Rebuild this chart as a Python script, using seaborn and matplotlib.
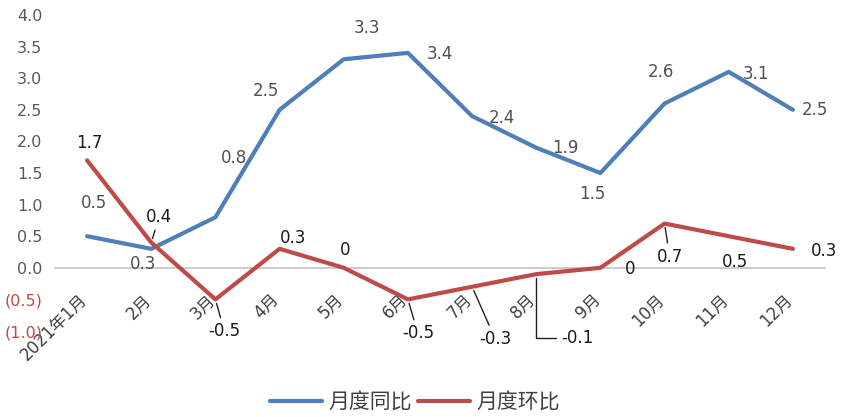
import matplotlib
matplotlib.use('Agg')
import matplotlib.pyplot as plt
import matplotlib.transforms as mtransforms
from matplotlib.lines import Line2D
from matplotlib.ticker import FuncFormatter, MultipleLocator
import pandas as pd
import seaborn as sns

# Data
months = ['2021年1月', '2月', '3月', '4月', '5月', '6月',
          '7月', '8月', '9月', '10月', '11月', '12月']
yoy = [0.5, 0.3, 0.8, 2.5, 3.3, 3.4, 2.4, 1.9, 1.5, 2.6, 3.1, 2.5]
mom = [1.7, 0.4, -0.5, 0.3, 0, -0.5, -0.3, -0.1, 0, 0.7, 0.5, 0.3]
series_names = ['月度同比', '月度环比']

df = pd.DataFrame({
    '月份': months * 2,
    '值': yoy + mom,
    '指标': [series_names[0]] * len(months) + [series_names[1]] * len(months),
})

# label placement (pixel offsets from each point)
yoy_offsets = [(7, 33), (-8, -15), (19, 59), (-14, 19), (23, 31), (32, -1),
               (30, -2), (29, 0), (-8, -21), (-4, 31), (27, -2), (22, 0)]
mom_offsets = [(2, 17), (8, 26), (9, -32), (13, 11), (1, 18), (10, -34),
               (23, -52), (41, -64), (30, -1), (5, -33), (6, -26), (31, -2)]
mom_leaders = {1: 'arc3', 2: 'arc3', 5: 'arc3', 6: 'arc3',
               7: 'angle,angleA=0,angleB=90,rad=0', 9: 'arc3'}

blue = '#4F7FB8'
red = '#BE4B48'

sns.set_style('white')
plt.rcParams['font.family'] = ['DejaVu Sans', 'Noto Sans CJK SC']

fig = plt.figure(figsize=(8.44, 4.17), dpi=100)
ax = fig.add_axes([55 / 844, 1 - 331 / 417, 770 / 844, 316 / 417])

sns.lineplot(data=df, x='月份', y='值', hue='指标', palette=[blue, red],
             lw=3, sort=False, legend=False, ax=ax)

ax.set_xlim(-0.5, len(months) - 0.5)
ax.set_ylim(-1.0, 4.0)
ax.yaxis.set_major_locator(MultipleLocator(0.5))
ax.yaxis.set_major_formatter(FuncFormatter(
    lambda v, p: f'({abs(v):.1f})' if v < -1e-9 else f'{abs(v):.1f}'))
ax.set_xlabel('')
ax.set_ylabel('')

for s in ['top', 'right', 'left']:
    ax.spines[s].set_visible(False)
ax.spines['bottom'].set_position(('data', 0))
ax.spines['bottom'].set_color('#C8C8C8')
ax.spines['bottom'].set_linewidth(1.3)
ax.spines['bottom'].set_zorder(0)

ax.tick_params(axis='y', length=0, pad=9, labelsize=11.5, labelcolor='#595959')
ax.tick_params(axis='x', length=0, pad=21, labelsize=12, labelcolor='#404040')
for t, v in zip(ax.get_yticklabels(), ax.get_yticks()):
    if v < -1e-9:
        t.set_color(red)

shift = mtransforms.ScaledTranslation(-3 / 100, 0, fig.dpi_scale_trans)
for t in ax.get_xticklabels():
    t.set_rotation(45)
    t.set_ha('right')
    t.set_va('center')
    t.set_rotation_mode('anchor')
    t.set_transform(t.get_transform() + shift)


def fmt(v):
    return '0' if v == 0 else f'{v:.1f}'


for i, (v, off) in enumerate(zip(yoy, yoy_offsets)):
    ax.annotate(fmt(v), xy=(i, v), xytext=off, textcoords='offset pixels',
                ha='center', va='center', fontsize=12, color='#505050')

for i, (v, off) in enumerate(zip(mom, mom_offsets)):
    arrow = None
    if i in mom_leaders:
        arrow = dict(arrowstyle='-', color='#202020', lw=1,
                     shrinkA=1, shrinkB=3, connectionstyle=mom_leaders[i])
    ax.annotate(fmt(v), xy=(i, v), xytext=off, textcoords='offset pixels',
                ha='center', va='center', fontsize=12, color='#1a1a1a',
                arrowprops=arrow)

handles = [Line2D([], [], color=blue, lw=3), Line2D([], [], color=red, lw=3)]
fig.legend(handles, series_names, loc='center', bbox_to_anchor=(0.492, 0.036),
           ncol=2, frameon=False, fontsize=15, handlelength=2.5,
           handletextpad=0.3, columnspacing=0.3, labelcolor='#404040')

fig.savefig('out.png', dpi=100)
